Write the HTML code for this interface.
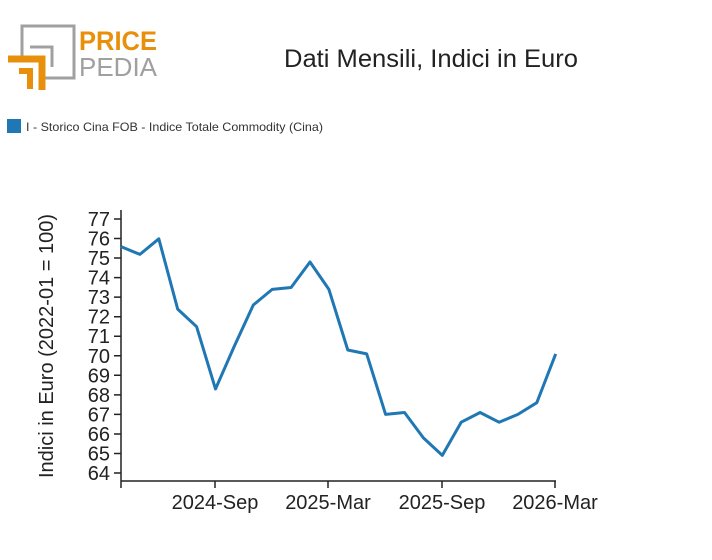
<!DOCTYPE html>
<html><head><meta charset="utf-8"><style>
body{margin:0;background:#fff;width:712px;height:555px;overflow:hidden;font-family:"Liberation Sans",sans-serif;}
</style></head><body>
<svg width="712" height="555" xmlns="http://www.w3.org/2000/svg" font-family="Liberation Sans, sans-serif">
<g fill="none" stroke-width="5">
<path d="M22 62V26H74V78H44" stroke="#a0a0a0" stroke-width="3"/>
<path d="M30 47H52V67" stroke="#a0a0a0" stroke-width="3"/>
<path d="M8 59H42V90" stroke="#e8900c" stroke-width="7"/>
<path d="M19 71H30V89" stroke="#e8900c" stroke-width="6"/>
</g>
<text x="79" y="50" font-size="27" font-weight="bold" fill="#e8900c" textLength="78" lengthAdjust="spacingAndGlyphs">PRICE</text>
<text x="79" y="76" font-size="26" fill="#a0a0a0" textLength="78" lengthAdjust="spacingAndGlyphs">PEDIA</text>
<text x="431" y="67" font-size="25" fill="#222" text-anchor="middle" textLength="294" lengthAdjust="spacingAndGlyphs">Dati Mensili, Indici in Euro</text>
<rect x="7" y="119" width="14" height="14" fill="#1f77b4"/>
<text x="26" y="131" font-size="12" fill="#333" textLength="297" lengthAdjust="spacingAndGlyphs">I - Storico Cina FOB - Indice Totale Commodity (Cina)</text>
<g stroke="#222" stroke-width="1.5">
<line x1="121" y1="210" x2="121" y2="481"/>
<line x1="121" y1="481" x2="556" y2="481"/>
<line x1="121" y1="481" x2="121" y2="488"/>
<line x1="215" y1="481" x2="215" y2="488"/>
<line x1="328" y1="481" x2="328" y2="488"/>
<line x1="442" y1="481" x2="442" y2="488"/>
<line x1="555" y1="481" x2="555" y2="488"/>
<path d="M114 219H121M114 238.5H121M114 258H121M114 277.6H121M114 297.1H121M114 316.7H121M114 336.2H121M114 355.8H121M114 375.3H121M114 394.9H121M114 414.4H121M114 434H121M114 453.5H121M114 473H121"/>
</g>
<g font-size="20" fill="#222" text-anchor="end">
<text x="110" y="226">77</text><text x="110" y="245.5">76</text><text x="110" y="265">75</text><text x="110" y="284.6">74</text><text x="110" y="304.1">73</text><text x="110" y="323.7">72</text><text x="110" y="343.2">71</text><text x="110" y="362.8">70</text><text x="110" y="382.3">69</text><text x="110" y="401.9">68</text><text x="110" y="421.4">67</text><text x="110" y="441">66</text><text x="110" y="460.5">65</text><text x="110" y="480">64</text>
</g>
<g font-size="20" fill="#222" text-anchor="middle">
<text x="215" y="509">2024-Sep</text><text x="328" y="509">2025-Mar</text><text x="442" y="509">2025-Sep</text><text x="555" y="509">2026-Mar</text>
</g>
<text transform="translate(53,346) rotate(-90)" font-size="20" fill="#222" text-anchor="middle">Indici in Euro (2022-01 = 100)</text>
<polyline fill="none" stroke="#1f77b4" stroke-width="3" stroke-linejoin="round" points="121,246.6 139.9,254.4 158.8,238.8 177.7,309.1 196.6,326.7 215.5,389 234.4,346 253.3,305 272.2,289.4 291.1,287.5 310,262 328.9,289.4 347.8,350 366.7,353.9 385.6,414.4 404.5,412.5 423.4,437.9 442.3,455.4 461.2,422.2 480.1,412.5 499,422.2 517.9,414.4 536.8,402.7 555.7,353.9"/>
</svg>
</body></html>
